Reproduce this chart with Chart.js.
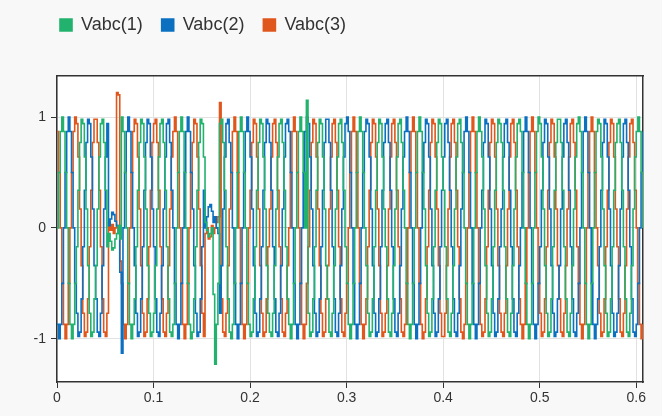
<!DOCTYPE html>
<html lang="en">
<head>
<meta charset="UTF-8">
<title>Vabc</title>
<script src="https://cdn.jsdelivr.net/npm/chart.js@4"></script>
<style>
  html, body { margin: 0; padding: 0; background: #f8f8f8; }
  canvas { display: block; }
</style>
</head>
<body>
<canvas id="chartCanvas" width="662" height="416"></canvas>
<script>
  // Sampled three-phase voltage (zero-order hold), one row = 12 samples
  const sampleTime = 1 / 600;
  const seriesNames = ['Vabc(1)', 'Vabc(2)', 'Vabc(3)'];
  const seriesColors = ['#22b26e', '#0b70c0', '#df571c'];

  const vabc1 = [
    0, 0.5, 0.87, 1, 0.87, 0.5, 0, -0.5, -0.87, -1, -0.87, -0.5,
    -0.17, 0.34, 0.77, 0.98, 0.94, 0.64, 0.17, -0.34, -0.77, -0.98, -0.94, -0.64,
    -0.34, 0.17, 0.64, 0.94, 0.98, 0.77, 0.34, -0.17, -0.05, -0.12, -0.2, -0.18,
    -0.1, -0.05, 0.02, -0.1, 1, 0.87, 0.5, 0, -0.5, -0.87, -1, -0.87,
    -0.64, -0.17, 0.34, 0.77, 0.98, 0.94, 0.64, 0.17, -0.34, -0.77, -0.98, -0.94,
    -0.77, -0.34, 0.17, 0.64, 0.94, 0.98, 0.77, 0.34, -0.17, -0.64, -0.94, -0.98,
    -0.87, -0.5, 0, 0.5, 0.87, 1, 0.87, 0.5, 0, -0.5, -0.87, -1,
    -0.94, -0.64, -0.17, 0.34, 0.77, 0.98, 0.94, 0.64, 0.05, -0.02, -0.08, -0.05,
    0, -0.6, -1.23, -0.87, -0.5, 0.94, 0.98, 0.77, 0.34, -0.17, -0.64, -0.94,
    -1, -0.87, -0.5, 0, 0.5, 0.87, 1, 0.87, 0.5, 0, -0.5, -0.87,
    -0.98, -0.94, -0.64, -0.17, 0.34, 0.77, 0.98, 0.94, 0.64, 0.17, -0.34, -0.77,
    -0.94, -0.98, -0.77, -0.34, 0.17, 0.64, 0.94, 0.98, 0.77, 0.34, -0.17, -0.64,
    -0.87, -1, -0.87, -0.5, 0, 0.5, 0.87, 1, 0.87, 0.5, 0, 1.15,
    -0.77, -0.98, -0.94, -0.64, -0.17, 0.34, 0.77, 0.98, 0.94, 0.64, 0.17, -0.34,
    -0.64, -0.94, -0.98, -0.77, -0.34, 0.17, 0.64, 0.94, 0.98, 0.77, 0.34, -0.17,
    -0.5, -0.87, -1, -0.87, -0.5, 0, 0.5, 0.87, 1, 0.87, 0.5, 0,
    -0.34, -0.77, -0.98, -0.94, -0.64, -0.17, 0.34, 0.77, 0.98, 0.94, 0.64, 0.17,
    -0.17, -0.64, -0.94, -0.98, -0.77, -0.34, 0.17, 0.64, 0.94, 0.98, 0.77, 0.34,
    0, -0.5, -0.87, -1, -0.87, -0.5, 0, 0.5, 0.87, 1, 0.87, 0.5,
    0.17, -0.34, -0.77, -0.98, -0.94, -0.64, -0.17, 0.34, 0.77, 0.98, 0.94, 0.64,
    0.34, -0.17, -0.64, -0.94, -0.98, -0.77, -0.34, 0.17, 0.64, 0.94, 0.98, 0.77,
    0.5, 0, -0.5, -0.87, -1, -0.87, -0.5, 0, 0.5, 0.87, 1, 0.87,
    0.64, 0.17, -0.34, -0.77, -0.98, -0.94, -0.64, -0.17, 0.34, 0.77, 0.98, 0.94,
    0.77, 0.34, -0.17, -0.64, -0.94, -0.98, -0.77, -0.34, 0.17, 0.64, 0.94, 0.98,
    0.87, 0.5, 0, -0.5, -0.87, -1, -0.87, -0.5, 0, 0.5, 0.87, 1,
    0.94, 0.64, 0.17, -0.34, -0.77, -0.98, -0.94, -0.64, -0.17, 0.34, 0.77, 0.98,
    0.98, 0.77, 0.34, -0.17, -0.64, -0.94, -0.98, -0.77, -0.34, 0.17, 0.64, 0.94,
    1, 0.87, 0.5, 0, -0.5, -0.87, -1, -0.87, -0.5, 0, 0.5, 0.87,
    0.98, 0.94, 0.64, 0.17, -0.34, -0.77, -0.98, -0.94, -0.64, -0.17, 0.34, 0.77,
    0.94, 0.98, 0.77, 0.34, -0.17, -0.64, -0.94, -0.98, -0.77, -0.34, 0.17, 0.64,
    0.87, 1, 0.87, 0.5, 0
  ];

  const vabc2 = [
    -0.87, -1, -0.87, -0.5, 0, 0.5, 0.87, 1, 0.87, 0.5, 0, -0.5,
    -0.77, -0.98, -0.94, -0.64, -0.17, 0.34, 0.77, 0.98, 0.94, 0.64, 0.17, -0.34,
    -0.64, -0.94, -0.98, -0.77, -0.34, 0.17, 0.64, 0.94, 0.02, 0.08, 0.14, 0.12,
    0.06, 0.02, -0.05, -0.4, -1.13, 0, 0.5, 0.87, 1, 0.87, 0.5, 0,
    -0.34, -0.77, -0.98, -0.94, -0.64, -0.17, 0.34, 0.77, 0.98, 0.94, 0.64, 0.17,
    -0.17, -0.64, -0.94, -0.98, -0.77, -0.34, 0.17, 0.64, 0.94, 0.98, 0.77, 0.34,
    0, -0.5, -0.87, -1, -0.87, -0.5, 0, 0.5, 0.87, 1, 0.87, 0.5,
    0.17, -0.34, -0.77, -0.98, -0.94, -0.64, -0.17, 0.34, 0, 0.1, 0.19, 0.21,
    0.15, 0.05, 0.1, 0, -0.05, -0.77, -0.34, 0.17, 0.64, 0.94, 0.98, 0.77,
    0.5, 0, -0.5, -0.87, -1, -0.87, -0.5, 0, 0.5, 0.87, 1, 0.87,
    0.64, 0.17, -0.34, -0.77, -0.98, -0.94, -0.64, -0.17, 0.34, 0.77, 0.98, 0.94,
    0.77, 0.34, -0.17, -0.64, -0.94, -0.98, -0.77, -0.34, 0.17, 0.64, 0.94, 0.98,
    0.87, 0.5, 0, -0.5, -0.87, -1, -0.87, -0.5, 0, 0.5, 0.87, 1,
    0.94, 0.64, 0.17, -0.34, -0.77, -0.98, -0.94, -0.64, -0.17, 0.34, 0.77, 0.98,
    0.98, 0.77, 0.34, -0.17, -0.64, -0.94, -0.98, -0.77, -0.34, 0.17, 0.64, 0.94,
    1, 0.87, 0.5, 0, -0.5, -0.87, -1, -0.87, -0.5, 0, 0.5, 0.87,
    0.98, 0.94, 0.64, 0.17, -0.34, -0.77, -0.98, -0.94, -0.64, -0.17, 0.34, 0.77,
    0.94, 0.98, 0.77, 0.34, -0.17, -0.64, -0.94, -0.98, -0.77, -0.34, 0.17, 0.64,
    0.87, 1, 0.87, 0.5, 0, -0.5, -0.87, -1, -0.87, -0.5, 0, 0.5,
    0.77, 0.98, 0.94, 0.64, 0.17, -0.34, -0.77, -0.98, -0.94, -0.64, -0.17, 0.34,
    0.64, 0.94, 0.98, 0.77, 0.34, -0.17, -0.64, -0.94, -0.98, -0.77, -0.34, 0.17,
    0.5, 0.87, 1, 0.87, 0.5, 0, -0.5, -0.87, -1, -0.87, -0.5, 0,
    0.34, 0.77, 0.98, 0.94, 0.64, 0.17, -0.34, -0.77, -0.98, -0.94, -0.64, -0.17,
    0.17, 0.64, 0.94, 0.98, 0.77, 0.34, -0.17, -0.64, -0.94, -0.98, -0.77, -0.34,
    0, 0.5, 0.87, 1, 0.87, 0.5, 0, -0.5, -0.87, -1, -0.87, -0.5,
    -0.17, 0.34, 0.77, 0.98, 0.94, 0.64, 0.17, -0.34, -0.77, -0.98, -0.94, -0.64,
    -0.34, 0.17, 0.64, 0.94, 0.98, 0.77, 0.34, -0.17, -0.64, -0.94, -0.98, -0.77,
    -0.5, 0, 0.5, 0.87, 1, 0.87, 0.5, 0, -0.5, -0.87, -1, -0.87,
    -0.64, -0.17, 0.34, 0.77, 0.98, 0.94, 0.64, 0.17, -0.34, -0.77, -0.98, -0.94,
    -0.77, -0.34, 0.17, 0.64, 0.94, 0.98, 0.77, 0.34, -0.17, -0.64, -0.94, -0.98,
    -0.87, -0.5, 0, 0.5, 0.87
  ];

  const vabc3 = [
    0.87, 0.5, 0, -0.5, -0.87, -1, -0.87, -0.5, 0, 0.5, 0.87, 1,
    0.94, 0.64, 0.17, -0.34, -0.77, -0.98, -0.94, -0.64, -0.17, 0.34, 0.77, 0.98,
    0.98, 0.77, 0.34, -0.17, -0.64, -0.94, -0.98, -0.77, 0.05, -0.02, 0.03, -0.05,
    0, 1.22, 1.2, -0.3, -0.5, -0.87, -1, -0.87, -0.5, 0, 0.5, 0.87,
    0.98, 0.94, 0.64, 0.17, -0.34, -0.77, -0.98, -0.94, -0.64, -0.17, 0.34, 0.77,
    0.94, 0.98, 0.77, 0.34, -0.17, -0.64, -0.94, -0.98, -0.77, -0.34, 0.17, 0.64,
    0.87, 1, 0.87, 0.5, 0, -0.5, -0.87, -1, -0.87, -0.5, 0, 0.5,
    0.77, 0.98, 0.94, 0.64, 0.17, -0.34, -0.77, -0.98, -0.05, 0, -0.1, -0.08,
    0.02, -0.05, 0, 0.05, 0.1, 1.13, -0.64, -0.94, -0.98, -0.77, -0.34, 0.17,
    0.5, 0.87, 1, 0.87, 0.5, 0, -0.5, -0.87, -1, -0.87, -0.5, 0,
    0.34, 0.77, 0.98, 0.94, 0.64, 0.17, -0.34, -0.77, -0.98, -0.94, -0.64, -0.17,
    0.17, 0.64, 0.94, 0.98, 0.77, 0.34, -0.17, -0.64, -0.94, -0.98, -0.77, -0.34,
    0, 0.5, 0.87, 1, 0.87, 0.5, 0, -0.5, -0.87, -1, -0.87, -0.5,
    -0.17, 0.34, 0.77, 0.98, 0.94, 0.64, 0.17, -0.34, -0.77, -0.98, -0.94, -0.64,
    -0.34, 0.17, 0.64, 0.94, 0.98, 0.77, 0.34, -0.17, -0.64, -0.94, -0.98, -0.77,
    -0.5, 0, 0.5, 0.87, 1, 0.87, 0.5, 0, -0.5, -0.87, -1, -0.87,
    -0.64, -0.17, 0.34, 0.77, 0.98, 0.94, 0.64, 0.17, -0.34, -0.77, -0.98, -0.94,
    -0.77, -0.34, 0.17, 0.64, 0.94, 0.98, 0.77, 0.34, -0.17, -0.64, -0.94, -0.98,
    -0.87, -0.5, 0, 0.5, 0.87, 1, 0.87, 0.5, 0, -0.5, -0.87, -1,
    -0.94, -0.64, -0.17, 0.34, 0.77, 0.98, 0.94, 0.64, 0.17, -0.34, -0.77, -0.98,
    -0.98, -0.77, -0.34, 0.17, 0.64, 0.94, 0.98, 0.77, 0.34, -0.17, -0.64, -0.94,
    -1, -0.87, -0.5, 0, 0.5, 0.87, 1, 0.87, 0.5, 0, -0.5, -0.87,
    -0.98, -0.94, -0.64, -0.17, 0.34, 0.77, 0.98, 0.94, 0.64, 0.17, -0.34, -0.77,
    -0.94, -0.98, -0.77, -0.34, 0.17, 0.64, 0.94, 0.98, 0.77, 0.34, -0.17, -0.64,
    -0.87, -1, -0.87, -0.5, 0, 0.5, 0.87, 1, 0.87, 0.5, 0, -0.5,
    -0.77, -0.98, -0.94, -0.64, -0.17, 0.34, 0.77, 0.98, 0.94, 0.64, 0.17, -0.34,
    -0.64, -0.94, -0.98, -0.77, -0.34, 0.17, 0.64, 0.94, 0.98, 0.77, 0.34, -0.17,
    -0.5, -0.87, -1, -0.87, -0.5, 0, 0.5, 0.87, 1, 0.87, 0.5, 0,
    -0.34, -0.77, -0.98, -0.94, -0.64, -0.17, 0.34, 0.77, 0.98, 0.94, 0.64, 0.17,
    -0.17, -0.64, -0.94, -0.98, -0.77, -0.34, 0.17, 0.64, 0.94, 0.98, 0.77, 0.34,
    0, -0.5, -0.87, -1, -0.87
  ];

  const allSeries = [vabc1, vabc2, vabc3];

  // white plot area behind the grid, legend nudged right to sit over the plot
  const plotBackground = {
    id: 'plotBackground',
    afterLayout(chart) {
      chart.legend.left = 41;
    },
    beforeDraw(chart) {
      const { ctx, chartArea: a } = chart;
      ctx.save();
      ctx.fillStyle = '#ffffff';
      ctx.fillRect(a.left, a.top, a.right - a.left, a.bottom - a.top);
      ctx.restore();
    }
  };

  const tickFont = { family: '"Liberation Sans", Arial, sans-serif', size: 14 };

  new Chart(document.getElementById('chartCanvas'), {
    type: 'line',
    data: {
      datasets: allSeries.map((vals, s) => ({
        label: seriesNames[s],
        data: vals.map((v, i) => ({ x: i * sampleTime, y: v })),
        borderColor: seriesColors[s],
        backgroundColor: seriesColors[s],
        borderWidth: 1.6,
        pointRadius: 0,
        stepped: true,
        fill: false
      }))
    },
    options: {
      responsive: false,
      animation: false,
      layout: { padding: { left: 0, right: 0, top: -3, bottom: 0 } },
      plugins: {
        tooltip: { enabled: false },
        legend: {
          position: 'top',
          align: 'start',
          labels: {
            boxWidth: 12,
            boxHeight: 12,
            padding: 19,
            color: '#333',
            font: { family: '"Liberation Sans", Arial, sans-serif', size: 18 }
          }
        }
      },
      scales: {
        x: {
          type: 'linear',
          position: 'bottom',
          min: 0,
          max: 0.607,
          afterFit: s => { s.height = 34; },
          ticks: { stepSize: 0.1, includeBounds: false, color: '#333', font: tickFont, padding: 2, maxRotation: 0 },
          grid: { color: '#e2e2e2', tickColor: '#333', tickLength: 6 },
          border: { color: '#333', width: 1.5 }
        },
        y: {
          type: 'linear',
          position: 'left',
          min: -1.39,
          max: 1.37,
          afterFit: s => { s.width = 57; },
          ticks: { stepSize: 1, includeBounds: false, color: '#333', font: tickFont, padding: 5 },
          grid: {
            color: c => (c.tick && c.tick.value === 0 ? '#c4c4c4' : '#e2e2e2'),
            tickColor: '#333',
            tickLength: 6
          },
          border: { color: '#333', width: 1.5 }
        },
        xTop: {
          type: 'linear',
          position: 'top',
          display: true,
          afterFit: s => { s.height = 32; },
          ticks: { display: false },
          grid: { display: false },
          border: { color: '#333', width: 1.5 }
        },
        yRight: {
          type: 'linear',
          position: 'right',
          display: true,
          afterFit: s => { s.width = 19; },
          ticks: { display: false },
          grid: { display: false },
          border: { color: '#333', width: 1.5 }
        }
      }
    },
    plugins: [plotBackground]
  });
</script>
</body>
</html>
